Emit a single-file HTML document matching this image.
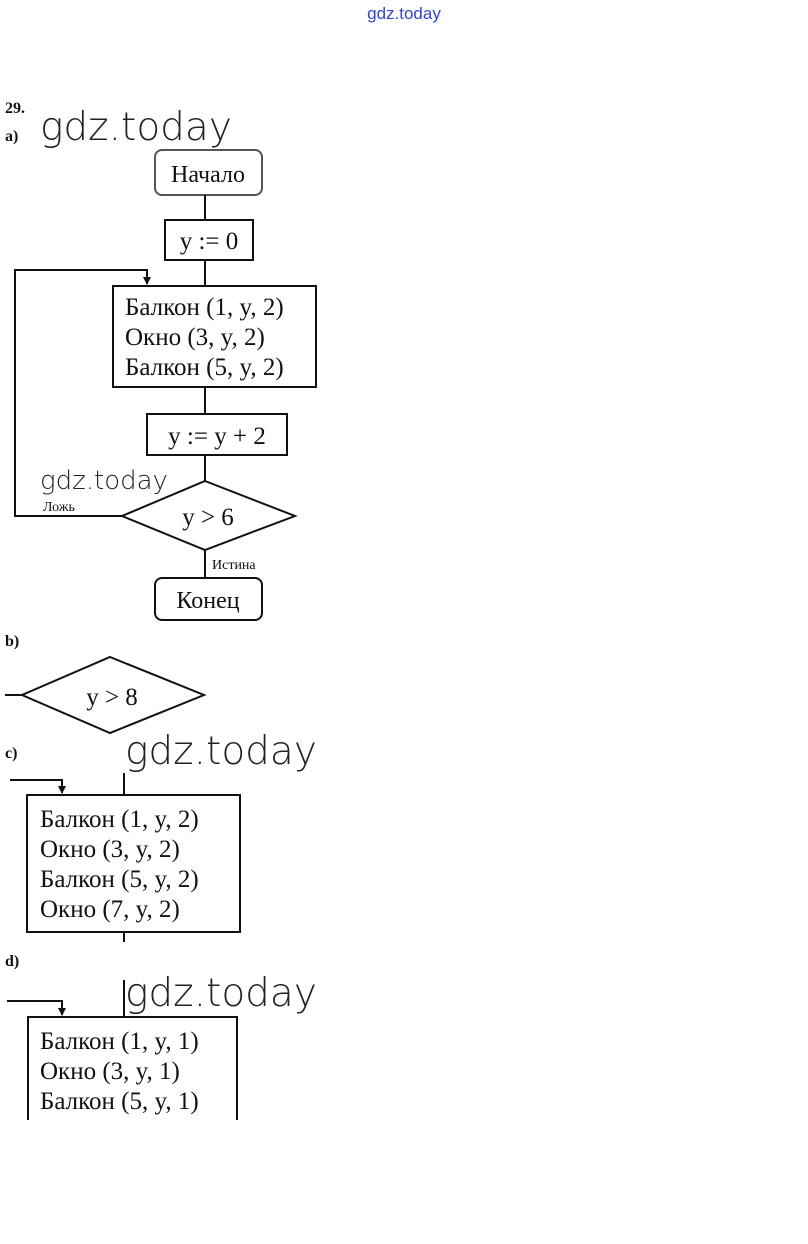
<!DOCTYPE html>
<html><head><meta charset="utf-8"><style>
html,body{margin:0;padding:0;background:#fff;}
svg{display:block}
.s{font-family:"Liberation Serif","DejaVu Serif",serif;fill:#111}
.w{font-family:"DejaVu Sans","Liberation Sans",sans-serif;font-weight:200;fill:#222}
</style></head><body>
<svg width="808" height="1244" viewBox="0 0 808 1244" xmlns="http://www.w3.org/2000/svg">
<defs><marker id="a" markerWidth="8" markerHeight="8" refX="4" refY="7" orient="0" markerUnits="userSpaceOnUse"><path d="M0,0 L8,0 L4,8 z" fill="#111"/></marker></defs>
<text x="404" y="19" text-anchor="middle" font-family="Liberation Sans,sans-serif" font-size="17" fill="#3344cc">gdz.today</text>
<text class="s" x="5" y="113" font-size="16" font-weight="bold">29.</text>
<text class="s" x="5" y="141" font-size="16" font-weight="bold">a)</text>
<text class="w" x="40" y="140" font-size="39">gdz.today</text>
<g stroke="#111" stroke-width="2" fill="none">
<rect x="155" y="150" width="107" height="45" rx="7" stroke="#555"/>
<line x1="205" y1="195" x2="205" y2="220"/>
<rect x="165" y="220" width="88" height="40"/>
<line x1="205" y1="260" x2="205" y2="286"/>
<rect x="113" y="286" width="203" height="101"/>
<line x1="205" y1="387" x2="205" y2="414"/>
<rect x="147" y="414" width="140" height="41"/>
<line x1="205" y1="455" x2="205" y2="481"/>
<polygon points="205,481 295,516 205,550 122,516"/>
<polyline points="122,516 15,516 15,270 147,270 147,284" marker-end="url(#a)"/>
<line x1="205" y1="550" x2="205" y2="578"/>
<rect x="155" y="578" width="107" height="42" rx="7"/>
<polygon points="110,657 204,695 110,733 22,695"/>
<line x1="5" y1="695" x2="22" y2="695"/>
<line x1="124" y1="773" x2="124" y2="795"/>
<polyline points="10,780 62,780 62,793" marker-end="url(#a)"/>
<rect x="27" y="795" width="213" height="137"/>
<line x1="124" y1="932" x2="124" y2="942"/>
<polyline points="7,1001 62,1001 62,1015" marker-end="url(#a)"/>
<line x1="124" y1="980" x2="124" y2="1017"/>
<polyline points="28,1120 28,1017 237,1017 237,1120"/>
</g>
<text class="s" x="208" y="182" font-size="24" text-anchor="middle" fill="#777">Начало</text>
<text class="s" x="209" y="249" font-size="25" text-anchor="middle">y := 0</text>
<text class="s" x="125" y="315" font-size="25">Балкон (1, y, 2)</text>
<text class="s" x="125" y="345" font-size="25">Окно (3, y, 2)</text>
<text class="s" x="125" y="375" font-size="25">Балкон (5, y, 2)</text>
<text class="s" x="217" y="444" font-size="25" text-anchor="middle">y := y + 2</text>
<text class="w" x="40" y="489" font-size="26">gdz.today</text>
<text class="s" x="43" y="511" font-size="14">Ложь</text>
<text class="s" x="208" y="525" font-size="25" text-anchor="middle">y &gt; 6</text>
<text class="s" x="212" y="569" font-size="14">Истина</text>
<text class="s" x="208" y="608" font-size="24" text-anchor="middle" fill="#666">Конец</text>
<text class="s" x="5" y="646" font-size="16" font-weight="bold">b)</text>
<text class="s" x="112" y="705" font-size="25" text-anchor="middle">y &gt; 8</text>
<text class="s" x="5" y="758" font-size="16" font-weight="bold">c)</text>
<text class="w" x="125" y="764" font-size="39">gdz.today</text>
<text class="s" x="40" y="827" font-size="25">Балкон (1, y, 2)</text>
<text class="s" x="40" y="857" font-size="25">Окно (3, y, 2)</text>
<text class="s" x="40" y="887" font-size="25">Балкон (5, y, 2)</text>
<text class="s" x="40" y="917" font-size="25">Окно (7, y, 2)</text>
<text class="s" x="5" y="966" font-size="16" font-weight="bold">d)</text>
<text class="w" x="125" y="1006" font-size="39">gdz.today</text>
<text class="s" x="40" y="1049" font-size="25">Балкон (1, y, 1)</text>
<text class="s" x="40" y="1079" font-size="25" fill="#999">Окно (3, y, 1)</text>
<text class="s" x="40" y="1109" font-size="25" fill="#888">Балкон (5, y, 1)</text>
</svg>
</body></html>
